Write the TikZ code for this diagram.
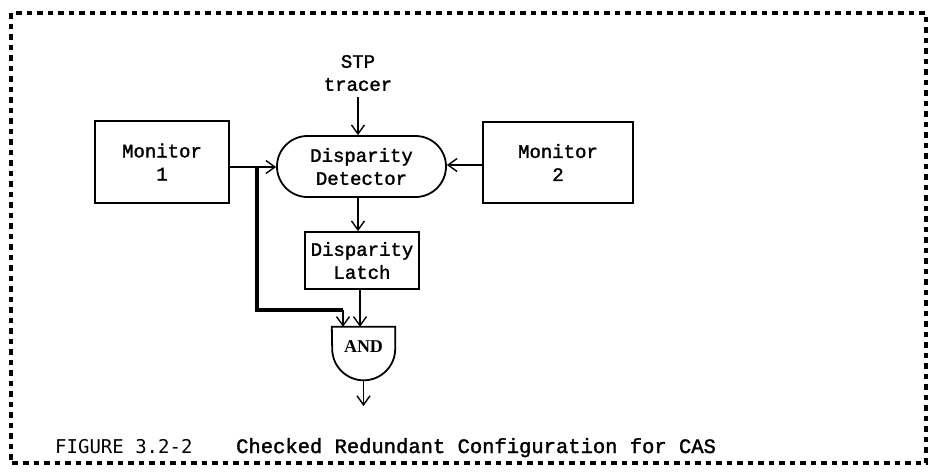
\documentclass[tikz,border=0pt]{standalone}
\usepackage{fontspec}
\setmainfont{Liberation Serif}
\setmonofont[FakeBold=1.6]{Liberation Mono}
\setsansfont{Liberation Sans}
\newfontfamily\capmono{DejaVu Sans Mono}
\usetikzlibrary{arrows.meta,shapes.misc}
\tikzset{
  box/.style={draw,line width=1.8pt,rectangle,inner sep=0pt,align=center,font=\fontsize{19}{23}\selectfont\ttfamily},
  flow/.style={line width=1.5pt,-{Straight Barb[length=9pt,width=13pt,line width=1.4pt]}},
  heavy/.style={line width=3.2pt},
  frame/.style={line width=4.5pt,dash pattern=on 5.5pt off 5pt}
}
\begin{document}
\begin{tikzpicture}[x=1pt,y=-1pt]
  \useasboundingbox (0,0) rectangle (931,475);
  % dotted outer border
  \draw[frame] (11,13) rectangle (926,463);

  % blocks
  \node[box,minimum width=134pt,minimum height=82pt] (mon1) at (162,162) {Monitor\\1};
  \node[box,minimum width=150pt,minimum height=81pt] (mon2) at (558,162.5) {Monitor\\2};
  \node[box,rounded rectangle,minimum width=169pt,minimum height=61pt] (det) at (361.5,166.5) {Disparity\\Detector};
  \node[box,minimum width=114pt,minimum height=57pt] (latch) at (362,260.5) {Disparity\\Latch};
  \node[align=center,font=\fontsize{19}{23}\selectfont\ttfamily,inner sep=0pt] (stp) at (358,73) {STP\\tracer};

  % AND gate: flat top, straight sides, round bottom
  \node[minimum width=63pt,minimum height=53pt,inner sep=0pt] (and) at (363.5,353.5) {};
  \node[font=\fontsize{18}{20}\selectfont\bfseries] (andlbl) at (363.5,347) {AND};
  \draw[line width=1.8pt] (and.north west) -- (and.north east) -- ++(0,22)
        arc[start angle=0,end angle=-180,radius=31.5pt] -- cycle;

  % connectors
  \coordinate (tr) at (358,97);
  \draw[flow] (tr) -- (tr |- det.north);
  \coordinate (m1o) at (mon1.east |- 0,167);
  \draw[flow] (m1o) -- (det.west |- m1o);
  \coordinate (m2o) at (mon2.west |- 0,165);
  \draw[flow] (m2o) -- (det.east |- m2o);
  \coordinate (dd) at (358,197);
  \draw[flow] (dd) -- (dd |- latch.north);
  \coordinate (lo) at (360,289);
  \draw[flow] (lo) -- (lo |- and.north);
  \coordinate (tap) at (257,167);
  \coordinate (bend) at (257,310);
  \coordinate (ai) at (343,310);
  \draw[heavy] (tap) -- (bend) -- (ai);
  \draw[flow] (ai) -- (ai |- and.north);
  \coordinate (out) at (363.5,406);
  \draw[flow] (363.5,380) -- (out);

  % caption
  \node[anchor=base west,inner sep=0pt,font=\fontsize{19}{21}\selectfont\capmono] (fig) at (55,453) {FIGURE 3.2-2};
  \node[anchor=base west,inner sep=0pt,font=\fontsize{20.5}{23}\selectfont\ttfamily] (cap) at (236,453) {Checked Redundant Configuration for CAS};
\end{tikzpicture}
\end{document}
